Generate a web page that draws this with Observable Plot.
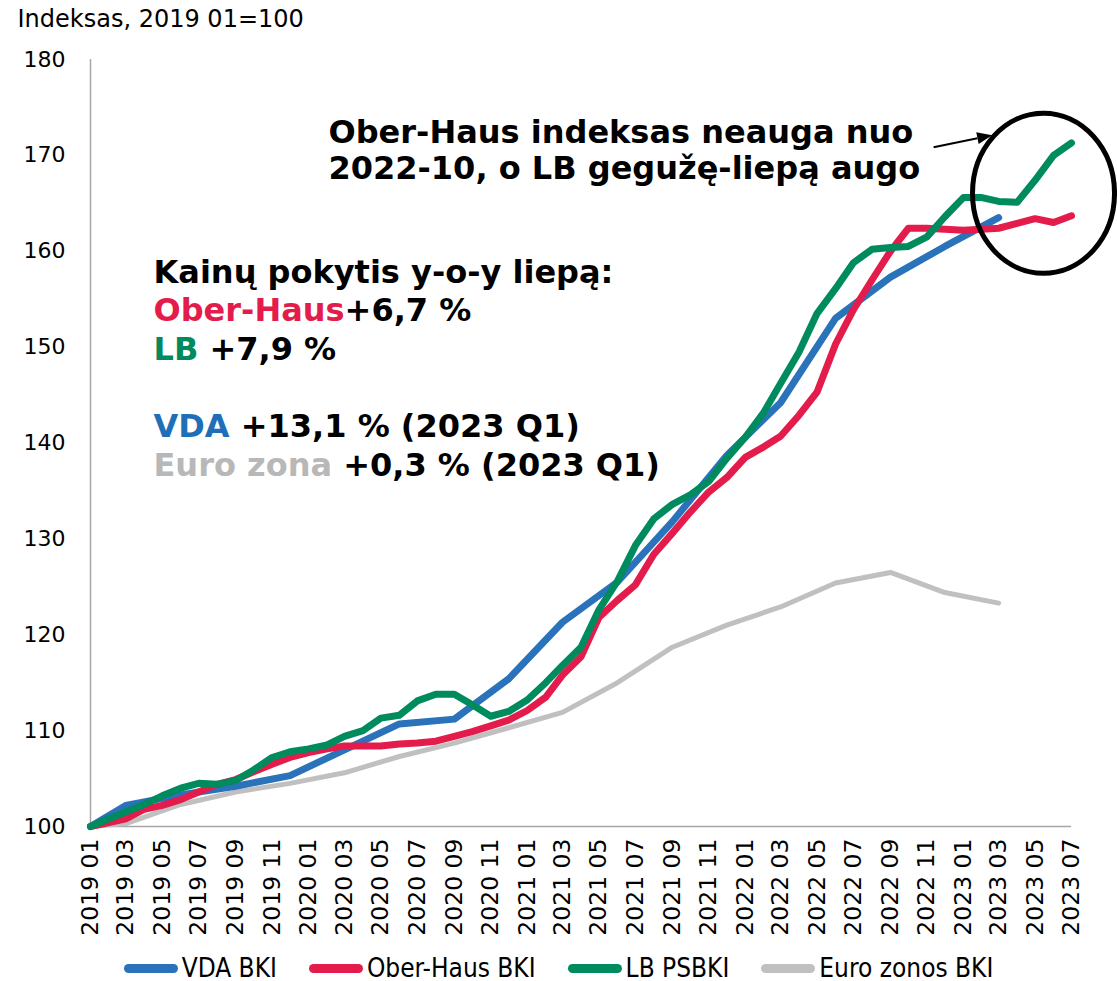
<!DOCTYPE html>
<html><head><meta charset="utf-8">
<script src="https://cdn.jsdelivr.net/npm/d3@7"></script>
<script src="https://cdn.jsdelivr.net/npm/@observablehq/plot@0.6"></script>
<style>
body{margin:0;background:#fff;overflow:hidden;}
#chart{width:1117px;}
.legend{display:flex;justify-content:center;align-items:center;gap:32px;font-family:"DejaVu Sans Condensed","DejaVu Sans",sans-serif;font-stretch:condensed;font-size:26px;line-height:26px;color:#000;height:26px;margin-top:11px;}
.legend .item{display:flex;align-items:center;}
.legend .sw{display:inline-block;width:54px;height:9px;border-radius:5px;margin-right:4px;}
</style></head><body><div id="chart"></div>
<script>
// ---- data ----
const months = d3.utcMonth.range(new Date(Date.UTC(2019,0,1)), new Date(Date.UTC(2023,7,1))); // 2019-01 .. 2023-07
const quarterLabels = ["2019 01","2019 03","2019 06","2019 09","2019 12","2020 03","2020 06","2020 09","2020 12",
  "2021 03","2021 06","2021 09","2021 12","2022 03","2022 06","2022 09","2022 12","2023 03"];
const vdaValues = [100,102.2,103.3,104.2,105.3,108.0,110.7,111.2,115.4,121.3,125.5,131.8,138.7,144.2,153.0,157.3,160.5,163.5];
const euroValues = [100,100.3,102.3,103.6,104.5,105.6,107.3,108.7,110.3,111.9,115.0,118.7,121.0,122.9,125.4,126.5,124.4,123.3];
const oberHausValues = [100,100.4,100.8,101.8,102.2,102.8,103.6,104.4,104.9,105.7,106.5,107.2,
  107.7,108.1,108.4,108.4,108.4,108.6,108.7,108.9,109.4,109.9,110.5,111.1,
  112.1,113.5,115.8,117.7,121.8,123.6,125.2,128.4,130.6,132.8,134.9,136.4,
  138.5,139.6,140.7,142.9,145.3,150.3,153.9,157.0,160.0,162.4,162.4,162.3,
  162.2,162.3,162.4,162.9,163.4,163.0,163.7];
const lbValues = [100,100.8,101.5,102.3,103.2,104.0,104.5,104.4,104.8,105.9,107.2,107.8,
  108.1,108.5,109.4,110.0,111.3,111.6,113.1,113.8,113.8,112.7,111.5,112.0,
  113.2,115.0,116.8,118.7,122.6,125.6,129.3,132.1,133.6,134.6,136.0,138.4,
  140.6,143.2,146.2,149.5,153.5,156.1,158.8,160.2,160.4,160.5,161.5,163.6,
  165.6,165.6,165.2,165.1,167.4,170.0,171.3];
const xTickLabels = ["2019 01","2019 03","2019 05","2019 07","2019 09","2019 11","2020 01","2020 03","2020 05","2020 07","2020 09","2020 11",
  "2021 01","2021 03","2021 05","2021 07","2021 09","2021 11","2022 01","2022 03","2022 05","2022 07","2022 09","2022 11",
  "2023 01","2023 03","2023 05","2023 07"];
const yTicks = [100,110,120,130,140,150,160,170,180];
const seriesNames = ["VDA BKI","Ober-Haus BKI","LB PSBKI","Euro zonos BKI"];
const seriesColors = ["#2a72ba","#e31c4b","#008b5e","#c0c0c0"];

// annotation content
const yAxisTitle = "Indeksas, 2019 01=100";
const calloutLines = ["Ober-Haus indeksas neauga nuo","2022-10, o LB gegužę-liepą augo"];
const summaryLines = [
  [["Kainų pokytis y-o-y liepą:", "#000"]],
  [["Ober-Haus", "#e31c4b"], ["+6,7 %", "#000"]],
  [["LB ", "#008b5e"], ["+7,9 %", "#000"]],
  [],
  [["VDA ", "#1f6fb8"], ["+13,1 % (2023 Q1)", "#000"]],
  [["Euro zona ", "#b8b8b8"], ["+0,3 % (2023 Q1)", "#000"]]
];
const ellipseAt = {date: "2023-05-16", value: 166.0};
const arrowFrom = {date: "2022-11-13", value: 170.8};
const arrowTo = {date: "2023-02-19", value: 172.05};

// ---- tables ----
const parseLabel = d3.utcParse("%Y %m");
const lineData = [
  ...quarterLabels.map((l,i)=>({series:3, date:parseLabel(l), value:euroValues[i]})),
  ...quarterLabels.map((l,i)=>({series:0, date:parseLabel(l), value:vdaValues[i]})),
  ...months.map((m,i)=>({series:1, date:m, value:oberHausValues[i]})),
  ...months.map((m,i)=>({series:2, date:m, value:lbValues[i]}))
];

const boldSize = 32;
const ctx = document.createElement("canvas").getContext("2d");
ctx.font = `bold ${boldSize}px 'DejaVu Sans'`;

const summaryMarks = [];
summaryLines.forEach((segs, li) => {
  let off = 0;
  segs.forEach(([txt, col]) => {
    summaryMarks.push(Plot.text([txt], {frameAnchor:"top-left", dx: 63 + off, dy: 213 + li*38.6,
      textAnchor:"start", lineAnchor:"middle", fontWeight:"bold", fontSize:boldSize, fill: col}));
    off += ctx.measureText(txt).width;
  });
});

const circleMark = (index, scales) => {
  const {x, y} = scales;
  const g = d3.create("svg:g");
  g.append("ellipse")
    .attr("cx", x(new Date(ellipseAt.date))).attr("cy", y(ellipseAt.value))
    .attr("rx", 71).attr("ry", 80)
    .attr("fill", "none").attr("stroke", "#000").attr("stroke-width", 5);
  const x1 = x(new Date(arrowFrom.date)), y1 = y(arrowFrom.value);
  const x2 = x(new Date(arrowTo.date)), y2 = y(arrowTo.value);
  const ang = Math.atan2(y2 - y1, x2 - x1), L = 15, W = 6;
  const bx = x2 - L*Math.cos(ang), by = y2 - L*Math.sin(ang);
  g.append("line").attr("x1", x1).attr("y1", y1).attr("x2", bx).attr("y2", by)
    .attr("stroke", "#000").attr("stroke-width", 2);
  g.append("polygon").attr("fill", "#000").attr("points", [
    [x2, y2],
    [bx + W*Math.sin(ang), by - W*Math.cos(ang)],
    [bx - W*Math.sin(ang), by + W*Math.cos(ang)]
  ].map(p => p.join(",")).join(" "));
  return g.node();
};

const chart = Plot.plot({
  width: 1117,
  height: 944,
  marginLeft: 90,
  marginRight: 46,
  marginTop: 59,
  marginBottom: 118,
  style: {fontFamily: "'DejaVu Sans', Verdana, sans-serif", background: "#fff", overflow: "visible"},
  x: {type: "utc", domain: [months[0], months[months.length-1]]},
  y: {domain: [100, 180]},
  marks: [
    Plot.axisY({ticks: yTicks, tickSize: 0, tickPadding: 25, label: null, fontSize: 22, tickFormat: d => d}),
    Plot.axisX({ticks: xTickLabels.map(parseLabel), tickFormat: d3.utcFormat("%Y %m"), tickRotate: -90,
      tickSize: 0, tickPadding: 12, label: null, fontSize: 23.5}),
    Plot.ruleY([100], {stroke: "#a6a6a6", strokeWidth: 1.5}),
    Plot.ruleX([months[0]], {stroke: "#a6a6a6", strokeWidth: 1.5}),
    Plot.line(lineData.filter(d=>d.series===3), {x:"date", y:"value", stroke: seriesColors[3], strokeWidth: 5, strokeLinejoin:"round", strokeLinecap:"round"}),
    Plot.line(lineData.filter(d=>d.series===0), {x:"date", y:"value", stroke: seriesColors[0], strokeWidth: 7, strokeLinejoin:"round", strokeLinecap:"round"}),
    Plot.line(lineData.filter(d=>d.series===1), {x:"date", y:"value", stroke: seriesColors[1], strokeWidth: 7, strokeLinejoin:"round", strokeLinecap:"round"}),
    Plot.line(lineData.filter(d=>d.series===2), {x:"date", y:"value", stroke: seriesColors[2], strokeWidth: 7, strokeLinejoin:"round", strokeLinecap:"round"}),
    Plot.text([yAxisTitle], {frameAnchor: "top-left", dx: -73, dy: -40, textAnchor: "start", lineAnchor: "middle", fontSize: 24, fill: "#000"}),
    ...calloutLines.map((t,i) => Plot.text([t], {frameAnchor: "top-left", dx: 238, dy: 73 + i*36, textAnchor: "start", lineAnchor: "middle", fontWeight: "bold", fontSize: boldSize, fill: "#000"})),
    ...summaryMarks,
    circleMark
  ]
});
document.getElementById("chart").appendChild(chart);

const legend = document.createElement("div");
legend.className = "legend";
seriesNames.forEach((n,i) => {
  const item = document.createElement("div");
  item.className = "item";
  const sw = document.createElement("span");
  sw.className = "sw"; sw.style.background = seriesColors[i];
  const tx = document.createElement("span");
  tx.textContent = n;
  item.appendChild(sw); item.appendChild(tx);
  legend.appendChild(item);
});
document.getElementById("chart").appendChild(legend);
</script></body></html>
